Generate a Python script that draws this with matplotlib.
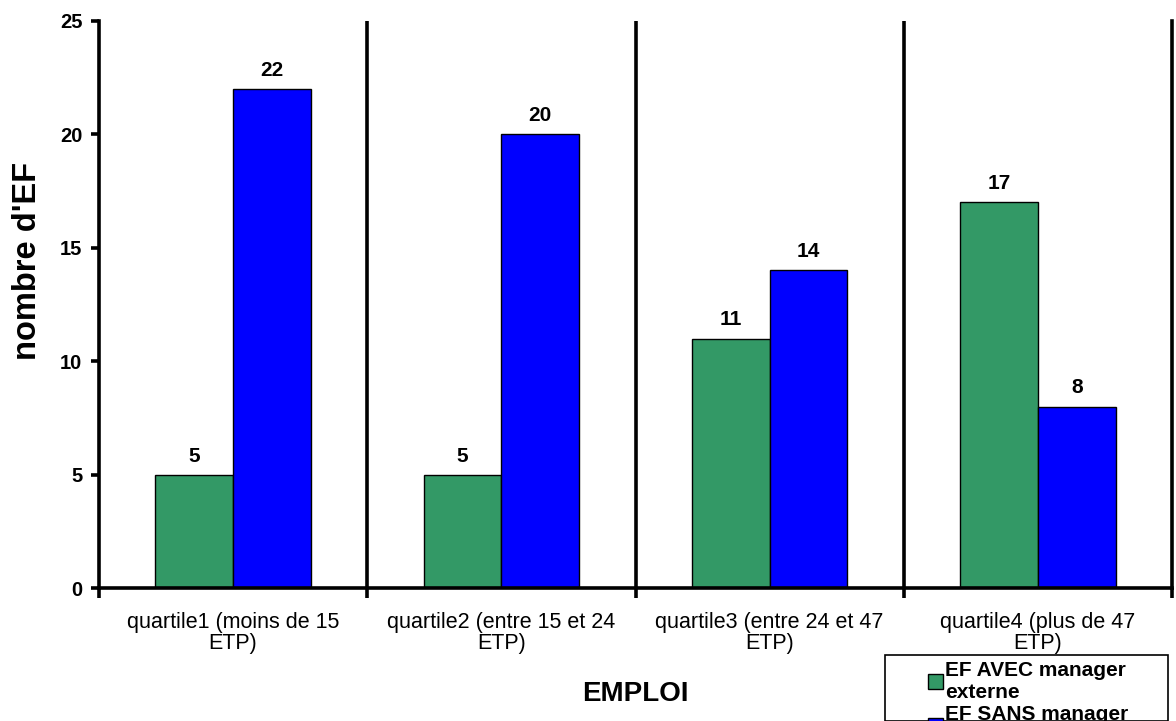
import numpy as np
import matplotlib.pyplot as plt
from matplotlib.patches import Rectangle

categories = ["quartile1 (moins de 15\nETP)", "quartile2 (entre 15 et 24\nETP)",
              "quartile3 (entre 24 et 47\nETP)", "quartile4 (plus de 47\nETP)"]
avec = [5, 5, 11, 17]
sans = [22, 20, 14, 8]
series_names = ["EF AVEC manager\nexterne", "EF SANS manager\ninterne"]

plt.rcParams['font.family'] = ['Liberation Sans', 'DejaVu Sans']

W, H = 1176, 721
fig = plt.figure(figsize=(W / 100, H / 100), dpi=100)
ax = fig.add_axes([99 / W, 1 - 588 / H, (1172 - 99) / W, (588 - 21) / H])

x = np.arange(len(categories))
w = 0.29
b1 = ax.bar(x - w / 2, avec, w, color="#339966", edgecolor="black", linewidth=1)
b2 = ax.bar(x + w / 2, sans, w, color="#0000FF", edgecolor="black", linewidth=1)

for bars in (b1, b2):
    for r in bars:
        ax.text(r.get_x() + r.get_width() / 2, r.get_height() + 0.4, "%d" % r.get_height(),
                ha="center", va="bottom", fontsize=15, fontweight="bold")

ax.set_xlim(-0.5, len(categories) - 0.5)
ax.set_ylim(0, 25)
ax.set_yticks([0, 5, 10, 15, 20, 25])

# separators between groups
for b in np.arange(0.5, len(categories) - 1, 1.0):
    ax.axvline(b, color="black", linewidth=2.6)

ax.set_xticks(np.arange(-0.5, len(categories), 1.0))
ax.set_xticklabels([])
ax.set_xticks(x, minor=True)
ax.set_xticklabels(categories, minor=True, fontsize=15.5, linespacing=1.0)
ax.tick_params(axis="x", which="minor", length=0, pad=17)
ax.tick_params(axis="x", which="major", length=7, width=2.6, direction="out")
ax.tick_params(axis="y", length=6, width=2.6, direction="out", labelsize=14.5, pad=6)
for lab in ax.get_yticklabels():
    lab.set_fontweight("bold")

for s in ("left", "bottom", "right"):
    ax.spines[s].set_linewidth(2.6)
ax.spines["top"].set_visible(False)

ax.set_ylabel("nombre d'EF", fontsize=23.5, fontweight="bold", va="center")
ax.yaxis.set_label_coords((28 - 99) / 1073, (588 - 261) / 567)
ax.set_xlabel("EMPLOI", fontsize=20, fontweight="bold", labelpad=20)

# legend box (cut off at the bottom edge like the original)
fig.patches.append(Rectangle((885 / W, 0), (1168 - 885) / W, 1 - 655 / H,
                             transform=fig.transFigure, fill=False, edgecolor="black",
                             linewidth=1.2, clip_on=False))
leg = fig.legend([b1, b2], series_names, loc="upper left",
                 bbox_to_anchor=(913 / W, 1 - 646 / H), frameon=False,
                 prop={"weight": "bold", "size": 15}, handlelength=0.75, handleheight=0.75,
                 handletextpad=0.1, borderpad=0.2, labelspacing=0.15)
for t in leg.get_texts():
    t.set_linespacing(1.2)

fig.savefig("out.png", dpi=100)
